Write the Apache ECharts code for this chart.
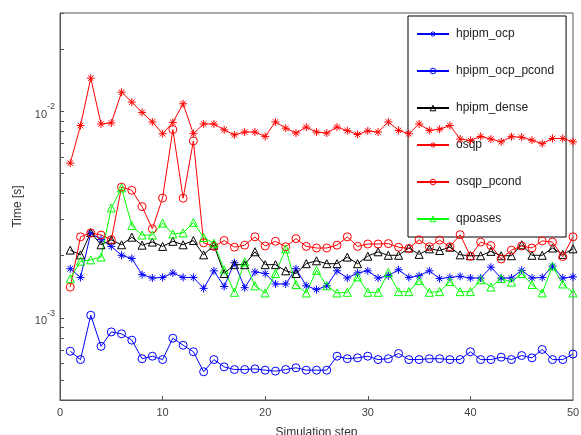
<!DOCTYPE html>
<html>
<head>
<meta charset="utf-8">
<script src="https://cdn.jsdelivr.net/npm/echarts@6/dist/echarts.min.js"></script>
<style>
  html, body { margin: 0; padding: 0; background: #fff; }
  #chart { width: 581px; height: 435px; }
</style>
</head>
<body>
<div id="chart"></div>
<script>
const steps = [1,2,3,4,5,6,7,8,9,10,11,12,13,14,15,16,17,18,19,20,21,22,23,24,25,
  26,27,28,29,30,31,32,33,34,35,36,37,38,39,40,41,42,43,44,45,46,47,48,49,50];

const hpipmOcp = [1.73e-3,1.57e-3,2.57e-3,2.40e-3,2.22e-3,2.01e-3,1.94e-3,1.62e-3,1.56e-3,1.57e-3,
  1.65e-3,1.57e-3,1.57e-3,1.39e-3,1.69e-3,1.42e-3,1.85e-3,1.40e-3,1.67e-3,1.64e-3,
  1.46e-3,1.46e-3,1.73e-3,1.43e-3,1.37e-3,1.43e-3,1.69e-3,1.56e-3,1.65e-3,1.69e-3,
  1.56e-3,1.60e-3,1.71e-3,1.57e-3,1.60e-3,1.69e-3,1.55e-3,1.57e-3,1.59e-3,1.56e-3,
  1.56e-3,1.76e-3,1.56e-3,1.56e-3,1.70e-3,1.56e-3,1.57e-3,1.78e-3,1.56e-3,1.58e-3];

const hpipmOcpPcond = [6.89e-4,6.28e-4,1.03e-3,7.28e-4,8.55e-4,8.37e-4,7.80e-4,6.34e-4,6.52e-4,6.28e-4,
  7.97e-4,7.37e-4,6.85e-4,5.48e-4,6.28e-4,5.79e-4,5.62e-4,5.62e-4,5.66e-4,5.58e-4,
  5.52e-4,5.62e-4,5.73e-4,5.58e-4,5.58e-4,5.58e-4,6.52e-4,6.34e-4,6.40e-4,6.52e-4,
  6.28e-4,6.34e-4,6.72e-4,6.28e-4,6.28e-4,6.34e-4,6.34e-4,6.28e-4,6.28e-4,6.85e-4,
  6.28e-4,6.28e-4,6.45e-4,6.28e-4,6.57e-4,6.40e-4,7.03e-4,6.28e-4,6.28e-4,6.68e-4];

const hpipmDense = [2.13e-3,2.02e-3,2.59e-3,2.26e-3,2.39e-3,2.26e-3,2.46e-3,2.25e-3,2.33e-3,2.22e-3,
  2.35e-3,2.26e-3,2.37e-3,2.02e-3,2.25e-3,1.64e-3,1.81e-3,1.81e-3,2.09e-3,1.81e-3,
  1.81e-3,1.69e-3,1.64e-3,1.83e-3,1.89e-3,1.83e-3,1.83e-3,1.97e-3,1.83e-3,1.99e-3,
  2.09e-3,2.01e-3,2.01e-3,2.18e-3,2.03e-3,2.16e-3,2.12e-3,2.20e-3,2.02e-3,2.00e-3,
  2.00e-3,2.10e-3,2.00e-3,2.00e-3,2.26e-3,2.01e-3,2.01e-3,2.18e-3,2.03e-3,2.16e-3];

const osqp = [5.62e-3,8.55e-3,1.45e-2,8.70e-3,8.80e-3,1.24e-2,1.11e-2,9.90e-3,8.90e-3,7.80e-3,
  8.85e-3,1.09e-2,7.80e-3,8.70e-3,8.70e-3,8.15e-3,7.70e-3,7.95e-3,7.95e-3,7.57e-3,
  8.90e-3,8.30e-3,7.86e-3,8.40e-3,7.95e-3,7.86e-3,8.40e-3,8.07e-3,7.74e-3,8.05e-3,
  7.95e-3,8.90e-3,8.10e-3,7.80e-3,8.70e-3,8.10e-3,8.20e-3,8.55e-3,7.35e-3,7.24e-3,
  7.57e-3,7.35e-3,7.13e-3,7.55e-3,7.50e-3,7.26e-3,6.98e-3,7.40e-3,7.40e-3,7.13e-3];

const osqpPcond = [1.41e-3,2.47e-3,2.58e-3,2.52e-3,2.39e-3,4.30e-3,4.15e-3,3.46e-3,2.70e-3,3.81e-3,
  8.17e-3,3.80e-3,7.20e-3,2.31e-3,2.22e-3,2.37e-3,2.20e-3,2.25e-3,2.47e-3,2.23e-3,
  2.35e-3,2.21e-3,2.42e-3,2.22e-3,2.18e-3,2.18e-3,2.25e-3,2.47e-3,2.22e-3,2.28e-3,
  2.28e-3,2.29e-3,2.20e-3,2.17e-3,2.39e-3,2.21e-3,2.38e-3,2.21e-3,2.53e-3,1.99e-3,
  2.33e-3,2.24e-3,1.93e-3,2.13e-3,2.23e-3,2.18e-3,2.36e-3,2.33e-3,1.98e-3,2.47e-3];

const qpoases = [1.55e-3,1.88e-3,1.91e-3,1.97e-3,3.41e-3,4.26e-3,2.80e-3,2.52e-3,2.52e-3,2.88e-3,
  2.55e-3,2.58e-3,2.90e-3,2.45e-3,2.30e-3,1.71e-3,1.33e-3,1.87e-3,1.43e-3,1.32e-3,
  1.64e-3,2.16e-3,1.45e-3,1.32e-3,1.70e-3,1.43e-3,1.32e-3,1.33e-3,1.58e-3,1.33e-3,
  1.33e-3,1.66e-3,1.34e-3,1.34e-3,1.52e-3,1.33e-3,1.34e-3,1.50e-3,1.34e-3,1.34e-3,
  1.53e-3,1.41e-3,1.55e-3,1.49e-3,1.64e-3,1.45e-3,1.32e-3,1.78e-3,1.46e-3,1.32e-3];

const xTicks = [10, 20, 30, 40];
const yLabelTicks = [1e-3, 1e-2];
const yTicks = [4e-4,5e-4,6e-4,7e-4,8e-4,9e-4,1e-3,2e-3,3e-3,4e-3,5e-3,6e-3,7e-3,8e-3,9e-3,1e-2,2e-2,3e-2];

const ASTERISK = 'path://M0,5L10,5M5,0L5,10M1.6,1.6L8.4,8.4M8.4,1.6L1.6,8.4';
const AXIS_COLOR = '#555';

function line(name, values, color, symbol) {
  return {
    name,
    type: 'line',
    data: values.map((v, i) => [steps[i], v]),
    symbol,
    symbolSize: 8,
    showAllSymbol: true,
    lineStyle: { color, width: 1 },
    itemStyle: { color: 'rgba(0,0,0,0)', borderColor: color, borderWidth: 1 },
    emphasis: { disabled: true },
    z: 5,
  };
}

function ticks(values) {
  return { show: true, inside: true, length: 4, customValues: values, lineStyle: { color: AXIS_COLOR } };
}

const chart = echarts.init(document.getElementById('chart'), null, { renderer: 'canvas' });

chart.setOption({
  animation: false,
  backgroundColor: '#fff',
  textStyle: { fontFamily: 'Liberation Sans, Arial, sans-serif' },
  // box around the plot, like the matlab axes frame
  grid: {
    left: 60, right: 8, top: 13, bottom: 35,
    outerBoundsMode: 'none', containLabel: false,
    show: true, borderColor: AXIS_COLOR, borderWidth: 1, backgroundColor: 'transparent',
  },
  legend: {
    orient: 'vertical',
    left: 408,
    top: 16,
    backgroundColor: 'transparent',
    borderColor: '#000',
    borderWidth: 1,
    borderRadius: 0,
    padding: [12, 12, 12, 8],
    itemWidth: 32,
    itemHeight: 7,
    itemGap: 25,
    itemStyle: { color: 'rgba(0,0,0,0)', borderWidth: 1 },
    textStyle: { fontSize: 12, color: '#222', padding: [0, 0, 0, 2] },
    data: ['hpipm_ocp', 'hpipm_ocp_pcond', 'hpipm_dense', 'osqp', 'osqp_pcond', 'qpoases'],
  },
  xAxis: {
    type: 'value',
    min: 0, max: 50, interval: 10,
    name: 'Simulation step',
    nameLocation: 'middle',
    nameGap: 27,
    nameTextStyle: { fontSize: 12, color: '#333' },
    axisLine: { lineStyle: { color: AXIS_COLOR } },
    axisTick: ticks(xTicks),
    axisLabel: { fontSize: 11, color: '#444', margin: 7 },
    splitLine: { show: false },
  },
  yAxis: {
    type: 'log',
    logBase: 10,
    min: 4e-4, max: 3e-2,
    name: 'Time [s]',
    nameLocation: 'middle',
    nameGap: 36,
    nameTextStyle: { fontSize: 12, color: '#333' },
    axisLine: { show: true, lineStyle: { color: AXIS_COLOR } },
    axisTick: ticks(yTicks),
    axisLabel: {
      customValues: yLabelTicks,
      margin: 5,
      color: '#444',
      formatter: v => '{b|10}{s|' + Math.round(Math.log10(v)) + '}',
      rich: {
        b: { fontSize: 11, color: '#444', verticalAlign: 'bottom', lineHeight: 18 },
        s: { fontSize: 9, color: '#444', verticalAlign: 'top', lineHeight: 18 },
      },
    },
    splitLine: { show: false },
  },
  series: [
    line('hpipm_ocp', hpipmOcp, '#0000ff', ASTERISK),
    line('hpipm_ocp_pcond', hpipmOcpPcond, '#0000ff', 'circle'),
    line('hpipm_dense', hpipmDense, '#000000', 'triangle'),
    line('osqp', osqp, '#ff0000', ASTERISK),
    line('osqp_pcond', osqpPcond, '#ff0000', 'circle'),
    line('qpoases', qpoases, '#00ff00', 'triangle'),
  ],
});
</script>
</body>
</html>
